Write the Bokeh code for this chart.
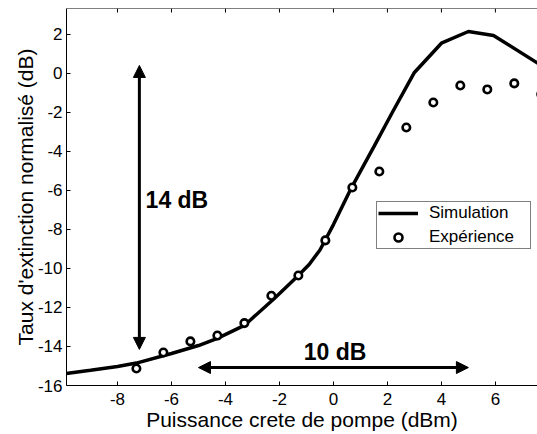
from bokeh.plotting import figure
from bokeh.models import (FixedTicker, Arrow, NormalHead, Label, Span,
                          Legend, LegendItem, Range1d)
from bokeh.embed import file_html
from bokeh.resources import INLINE

# ---- data ----
sim_x = [-9.9, -9.0, -8.0, -7.3, -6.0, -5.0, -4.3, -3.3, -2.2, -1.3, -0.9, -0.5,
         0.0, 0.67, 1.5, 2.2, 3.0, 4.0, 5.0, 5.93, 7.6]
sim_y = [-15.38, -15.22, -15.03, -14.85, -14.36, -13.95, -13.58, -12.92, -11.55,
         -10.36, -9.8, -9.05, -7.75, -5.85, -3.75, -1.95, 0.05, 1.55, 2.15, 1.95,
         0.5]
exp_x = [-7.3, -6.3, -5.3, -4.3, -3.3, -2.3, -1.3, -0.3, 0.7, 1.7, 2.7, 3.7,
         4.7, 5.7, 6.7, 7.7]
exp_y = [-15.13, -14.31, -13.74, -13.44, -12.8, -11.4, -10.36, -8.56, -5.85,
         -5.03, -2.77, -1.49, -0.62, -0.82, -0.51, -1.07]
x_ticks = [-8, -6, -4, -2, 0, 2, 4, 6]
y_ticks = [-16, -14, -12, -10, -8, -6, -4, -2, 0, 2]
x_tick_labels = ["-8", "-6", "-4", "-2", "0", "2", "4", "6"]
y_tick_labels = ["-16", "-14", "-12", "-10", "-8", "-6", "-4", "-2", "0", "2"]

X_RANGE = (-9.89, 7.56)
Y_RANGE = (-16, 3.33)

# annotations (data units)
v_arrow_x = -7.19
v_arrow_y = (-14.15, 0.41)
h_arrow_y = -15.08
h_arrow_x = (-5.0, 5.0)
label14 = ("14 dB", -6.96, -6.51)
label10 = ("10 dB", 0.06, -14.26)

FONT = "Liberation Sans"

p = figure(width=537, height=434, output_backend="svg", toolbar_location=None,
           x_range=Range1d(*X_RANGE), y_range=Range1d(*Y_RANGE),
           min_border_left=66, min_border_right=0, min_border_top=8,
           min_border_bottom=49, background_fill_color="white",
           border_fill_color="white")
p.outline_line_color = None
p.grid.visible = False

p.xaxis.ticker = FixedTicker(ticks=x_ticks)
p.yaxis.ticker = FixedTicker(ticks=y_ticks)
p.xaxis.major_label_overrides = dict(zip(x_ticks, x_tick_labels))
p.yaxis.major_label_overrides = dict(zip(y_ticks, y_tick_labels))
p.xaxis.axis_label = "Puissance crete de pompe (dBm)"
p.yaxis.axis_label = "Taux d'extinction normalisé (dB)"
for ax in (p.xaxis, p.yaxis):
    ax.major_tick_in = 4
    ax.major_tick_out = 0
    ax.minor_tick_line_color = None
    ax.axis_line_color = "black"
    ax.major_tick_line_color = "black"
    ax.major_label_text_font = FONT
    ax.major_label_text_font_size = "17px"
    ax.major_label_text_color = "black"
    ax.axis_label_text_font = FONT
    ax.axis_label_text_font_size = "21px"
    ax.axis_label_text_font_style = "normal"
    ax.axis_label_text_color = "black"
p.xaxis.major_label_standoff = 7
p.xaxis.axis_label_standoff = 0
p.yaxis.major_label_standoff = 4
p.yaxis.axis_label_standoff = -2

# top frame line with inward ticks (MATLAB box style)
p.add_layout(Span(location=Y_RANGE[1], dimension="width",
                  line_color="black", line_width=1))
tick_len = 4 * (Y_RANGE[1] - Y_RANGE[0]) / 377.0
p.segment(x0=x_ticks, y0=[Y_RANGE[1]] * len(x_ticks), x1=x_ticks,
          y1=[Y_RANGE[1] - tick_len] * len(x_ticks), line_color="black",
          line_width=1)

r_line = p.line(sim_x, sim_y, line_color="black", line_width=3.5)
r_pts = p.scatter(exp_x, exp_y, marker="circle", size=7.5, line_width=2.6,
                  line_color="black", fill_color="white")

head = dict(size=12, fill_color="black", line_color="black")
p.add_layout(Arrow(start=NormalHead(**head), end=NormalHead(**head),
                   x_start=v_arrow_x, y_start=v_arrow_y[0],
                   x_end=v_arrow_x, y_end=v_arrow_y[1],
                   line_width=3, line_color="black"))
p.add_layout(Arrow(start=NormalHead(**head), end=NormalHead(**head),
                   x_start=h_arrow_x[0], y_start=h_arrow_y,
                   x_end=h_arrow_x[1], y_end=h_arrow_y,
                   line_width=3, line_color="black"))

p.add_layout(Label(text=label14[0], x=label14[1], y=label14[2],
                   text_font=FONT, text_font_size="23px", text_font_style="bold",
                   text_baseline="alphabetic", text_color="black"))
p.add_layout(Label(text=label10[0], x=label10[1], y=label10[2],
                   text_font=FONT, text_font_size="23px", text_font_style="bold",
                   text_baseline="alphabetic", text_align="center",
                   text_color="black"))

legend = Legend(items=[LegendItem(label="Simulation", renderers=[r_line]),
                       LegendItem(label="Expérience", renderers=[r_pts])],
                location=(310, 136), padding=1, spacing=4, margin=0,
                glyph_width=40, glyph_height=20, label_height=20,
                label_width=100, label_standoff=11,
                label_text_font=FONT, label_text_font_size="17px",
                label_text_color="black", border_line_color="black",
                border_line_width=1, background_fill_color="white",
                background_fill_alpha=1)
p.add_layout(legend)

open("out.html", "w").write(file_html(p, INLINE))
